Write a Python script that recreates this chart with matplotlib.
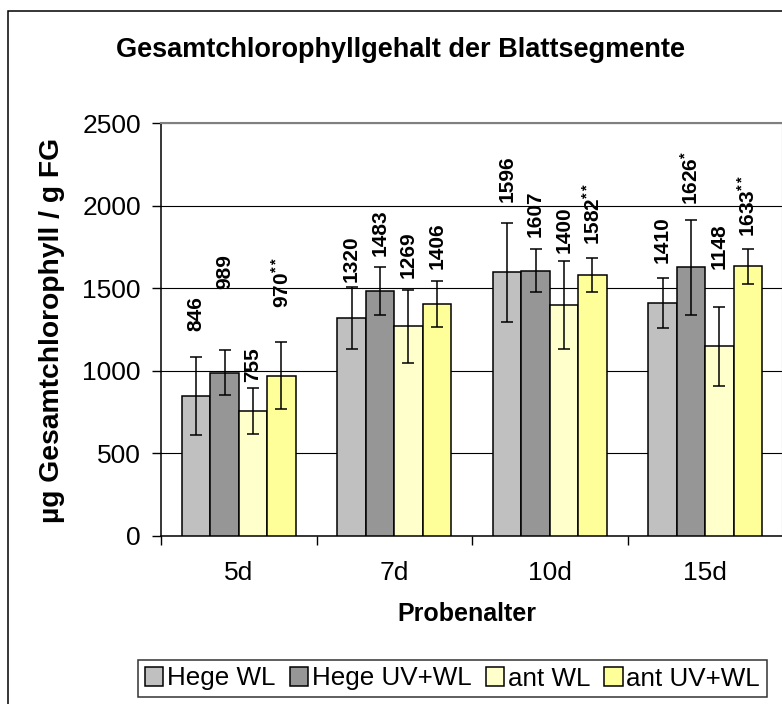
import matplotlib
matplotlib.use("Agg")
import matplotlib.pyplot as plt
from matplotlib.patches import Rectangle
import numpy as np

plt.rcParams['font.family'] = ['Liberation Sans', 'DejaVu Sans']
plt.rcParams['mathtext.fontset'] = 'custom'
plt.rcParams['mathtext.rm'] = 'Liberation Sans:bold'
plt.rcParams['mathtext.it'] = 'Liberation Sans:bold'
plt.rcParams['mathtext.bf'] = 'Liberation Sans:bold'

# Daten
categories = ['5d', '7d', '10d', '15d']
series = ['Hege WL', 'Hege UV+WL', 'ant WL', 'ant UV+WL']
hege_wl = [846, 1320, 1596, 1410]
hege_uvwl = [989, 1483, 1607, 1626]
ant_wl = [755, 1269, 1400, 1148]
ant_uvwl = [970, 1406, 1582, 1633]
err_hege_wl = [237, 190, 300, 150]
err_hege_uvwl = [134, 145, 128, 286]
err_ant_wl = [138, 220, 267, 240]
err_ant_uvwl = [204, 138, 103, 106]
# Signifikanzsterne hinter den Werten
stars_hege_wl = ['', '', '', '']
stars_hege_uvwl = ['', '', '', '*']
stars_ant_wl = ['', '', '', '']
stars_ant_uvwl = ['**', '', '**', '**']
# Lage der Beschriftungen (Unterkante, in Datenwerten) - von Hand verschoben wie im Original
lab_hege_wl = [1241, 1538, 2025, 1651]
lab_hege_uvwl = [1495, 1695, 1809, 2004]
lab_ant_wl = [932, 1560, 1713, 1615]
lab_ant_uvwl = [1380, 1615, 1762, 1812]

values = [hege_wl, hege_uvwl, ant_wl, ant_uvwl]
errors = [err_hege_wl, err_hege_uvwl, err_ant_wl, err_ant_uvwl]
stars = [stars_hege_wl, stars_hege_uvwl, stars_ant_wl, stars_ant_uvwl]
labpos = [lab_hege_wl, lab_hege_uvwl, lab_ant_wl, lab_ant_uvwl]
colors = ['#C0C0C0', '#969696', '#FFFFCC', '#FFFF99']

W, H = 782, 704
fig = plt.figure(figsize=(W / 100, H / 100), dpi=100, facecolor='white')

# Plotbereich in Pixeln
x0, x1 = 161, 783
y0, y1 = 535.7, 123.3
ax = fig.add_axes([x0 / W, 1 - y0 / H, (x1 - x0) / W, (y0 - y1) / H])

x = np.arange(len(categories))
bw = 0.183
for j in range(4):
    pos = x + (j - 1.5) * bw
    ax.bar(pos, values[j], width=bw, color=colors[j], edgecolor='black',
           linewidth=1.1, label=series[j], zorder=3)
    ax.errorbar(pos, values[j], yerr=errors[j], fmt='none', ecolor='black',
                elinewidth=1.1, capsize=4.3, capthick=1.1, zorder=4)
    for i in range(len(categories)):
        txt = str(values[j][i])
        if stars[j][i]:
            txt = txt + r'$^{' + stars[j][i] + '}$'
        ax.text(pos[i], labpos[j][i], txt, rotation=90, ha='center', va='bottom',
                fontsize=15, fontweight='bold', zorder=5)

ax.set_xlim(-0.5, 3.5)
ax.set_ylim(0, 2500)
ax.set_yticks([0, 500, 1000, 1500, 2000, 2500])
ax.set_xticks(x)
ax.set_xticklabels(categories)
ax.set_xticks(np.arange(-0.5, 4, 1), minor=True)
ax.tick_params(axis='x', which='major', length=0, pad=18, labelsize=19)
ax.tick_params(axis='x', which='minor', length=6.5, width=1, direction='out')
ax.tick_params(axis='y', length=6.5, width=1, direction='out', pad=8, labelsize=19)

ax.yaxis.grid(True, color='black', linewidth=0.8, zorder=0)
ax.set_axisbelow(True)
for s in ['top', 'right']:
    ax.spines[s].set_color('#808080')
    ax.spines[s].set_linewidth(1.5)
ax.spines['left'].set_linewidth(1.1)
ax.spines['bottom'].set_linewidth(1.1)

# Titel und Achsentitel
fig.text(400 / W, 1 - 50 / H, 'Gesamtchlorophyllgehalt der Blattsegmente',
         ha='center', va='center', fontsize=19.5, fontweight='bold')
fig.text(52 / W, 1 - 330.5 / H, 'µg Gesamtchlorophyll / g FG', rotation=90,
         ha='center', va='center', fontsize=20.3, fontweight='bold')
fig.text(467 / W, 1 - 614 / H, 'Probenalter', ha='center', va='center',
         fontsize=18, fontweight='bold')

leg = fig.legend(loc='center', bbox_to_anchor=(452.5 / W, 1 - 678.5 / H), ncol=4,
                 fontsize=18.7, frameon=True, fancybox=False, edgecolor='black',
                 handlelength=0.7, handleheight=0.7, handletextpad=0.15,
                 columnspacing=0.55, borderpad=0.25, borderaxespad=0)
leg.get_frame().set_linewidth(1.1)

# Rahmen des Diagrammbereichs (rechts und unten abgeschnitten)
fig.patches.append(Rectangle((7.5 / W, -0.1), 1.2, 1 - 11.5 / H + 0.1,
                             transform=fig.transFigure, fill=False,
                             edgecolor='black', linewidth=1.1))

fig.savefig('out.png', dpi=100, facecolor='white')
